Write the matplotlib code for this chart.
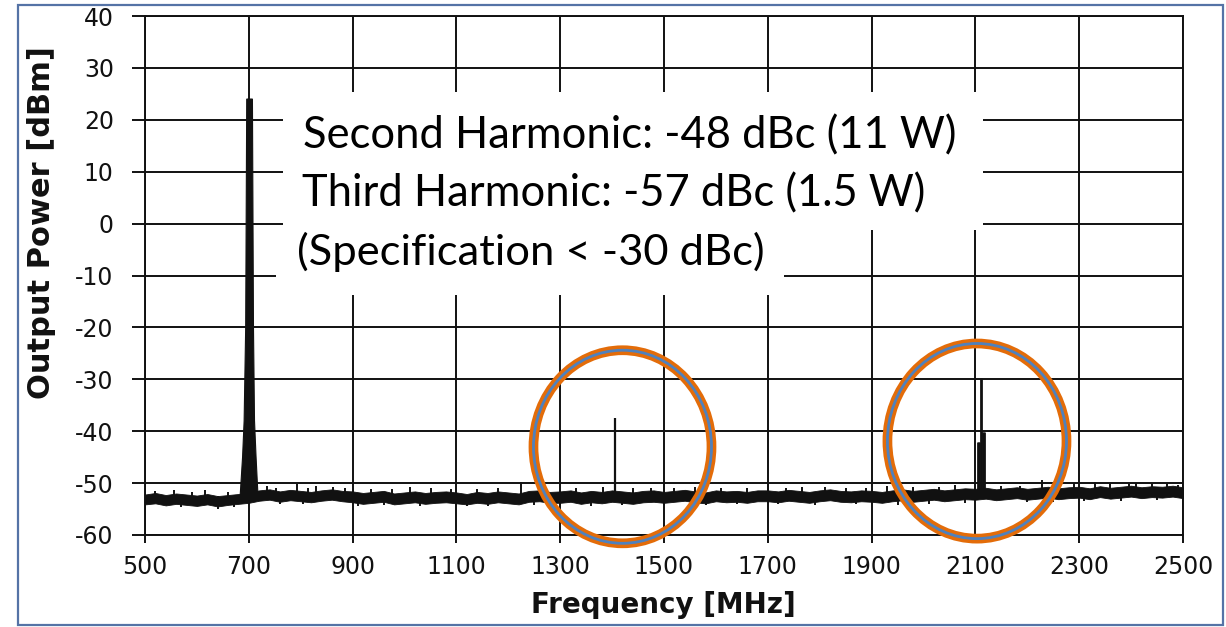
import numpy as np
import matplotlib
matplotlib.use("Agg")
import matplotlib.pyplot as plt
from matplotlib.patches import Ellipse, Rectangle

plt.rcParams["axes.unicode_minus"] = False
plt.rcParams["font.family"] = ["DejaVu Sans"]

# ---- data -------------------------------------------------------------
x_ticks = [500, 700, 900, 1100, 1300, 1500, 1700, 1900, 2100, 2300, 2500]
y_ticks = [-60, -50, -40, -30, -20, -10, 0, 10, 20, 30, 40]

# noise floor envelope, sampled every 20 MHz from 500 to 2500 MHz
noise_freq = np.arange(500, 2501, 20)
noise_upper = [
    -52.2, -51.9, -52.3, -52.0, -52.2, -52.4, -52.1, -52.5, -52.3, -52.1,
    -51.7, -51.4, -51.2, -51.6, -51.3, -51.5, -51.7, -51.4, -51.2, -51.5,
    -51.6, -51.9, -51.7, -51.5, -52.0, -51.8, -51.6, -51.9, -51.7, -51.6,
    -51.8, -52.1, -51.7, -51.9, -51.6, -51.8, -52.0, -51.5, -51.4, -51.7,
    -51.6, -51.4, -51.8, -51.5, -51.7, -51.4, -51.6, -51.8, -51.5, -51.4,
    -51.7, -51.5, -51.3, -51.6, -51.8, -51.4, -51.6, -51.5, -51.7, -51.4,
    -51.4, -51.6, -51.3, -51.5, -51.7, -51.4, -51.2, -51.5, -51.6, -51.4,
    -51.5, -51.7, -51.4, -51.2, -51.5, -51.3, -51.1, -51.4, -51.2, -51.0,
    -51.1, -50.9, -51.2, -51.0, -50.8, -51.1, -50.9, -50.7, -51.0, -50.8,
    -50.7, -51.0, -50.6, -50.9, -50.7, -50.5, -50.8, -50.6, -50.7, -50.5, -50.8,
]
noise_lower = [
    -54.1, -53.9, -54.3, -54.0, -54.2, -54.4, -54.1, -54.5, -54.2, -54.0,
    -53.8, -53.4, -53.2, -53.6, -53.3, -53.5, -53.7, -53.4, -53.2, -53.5,
    -53.7, -54.0, -53.8, -53.6, -54.1, -53.9, -53.7, -54.0, -53.8, -53.7,
    -53.9, -54.1, -53.8, -54.0, -53.7, -53.9, -54.1, -53.6, -53.5, -53.8,
    -53.8, -53.6, -54.0, -53.7, -53.9, -53.6, -53.8, -54.0, -53.7, -53.6,
    -53.8, -53.6, -53.4, -53.7, -53.9, -53.5, -53.7, -53.6, -53.8, -53.5,
    -53.5, -53.7, -53.4, -53.6, -53.8, -53.5, -53.3, -53.6, -53.7, -53.5,
    -53.6, -53.8, -53.5, -53.3, -53.6, -53.4, -53.2, -53.5, -53.3, -53.1,
    -53.2, -53.0, -53.3, -53.1, -52.9, -53.2, -53.0, -52.8, -53.1, -52.9,
    -52.8, -53.1, -52.7, -53.0, -52.8, -52.6, -52.9, -52.7, -52.8, -52.6, -52.9,
]

# small spurs sticking out above the noise floor
spur_freq = [520, 555, 590, 615, 660, 735, 752, 792, 815, 830, 862, 885, 935,
             975, 1010, 1052, 1090, 1140, 1180, 1225, 1262, 1330, 1382, 1440,
             1475, 1520, 1560, 1610, 1660, 1700, 1735, 1765, 1810, 1850,
             1890, 1930, 1980, 2030, 2060, 2150, 2185, 2228, 2260, 2290,
             2330, 2360, 2395, 2410, 2440, 2470, 2490]
spur_top = [-51.6, -51.3, -51.7, -51.4, -51.8, -50.6, -51.0, -50.2, -50.9,
            -50.6, -50.8, -51.0, -51.1, -51.2, -50.7, -50.9, -51.2, -51.1,
            -51.0, -49.8, -50.9, -50.9, -50.8, -51.0, -50.9, -51.0, -50.7,
            -50.9, -51.0, -50.2, -50.9, -50.7, -50.8, -50.9, -51.0, -50.6,
            -50.8, -50.7, -50.4, -50.6, -50.5, -49.4, -50.4, -50.0, -49.7,
            -50.1, -50.2, -50.0, -50.2, -50.1, -50.3]

# short dips below the noise floor
dip_freq = [570, 640, 672, 760, 805, 910, 960, 1030, 1120, 1160, 1250, 1300,
            1360, 1420, 1500, 1580, 1640, 1720, 1790, 1870, 1950, 2010, 2080,
            2200, 2250, 2310, 2380, 2450]
dip_bottom = [-54.6, -54.9, -54.7, -54.1, -54.0, -54.4, -54.3, -54.5, -54.4,
              -54.5, -54.3, -54.2, -54.4, -54.3, -54.2, -54.3, -54.1, -54.0,
              -54.2, -54.1, -54.2, -54.0, -53.9, -53.6, -53.7, -53.4, -53.5,
              -53.3]

# fundamental carrier outline (MHz, dBm)
carrier_freq = [683, 688, 691, 694, 696.0, 707.0, 709, 711, 714, 718]
carrier_dbm = [-53, -45, -38, -20, 24, 24, -20, -38, -45, -53]

# second harmonic
h2_freq = [1405]
h2_dbm = [-37.5]

# third harmonic cluster
h3_freq = [2104.5, 2107.0, 2110.5, 2114.0, 2116.0]
h3_dbm = [-42.1, -42.1, -29.8, -40.1, -40.1]

annotations = [
    "Second Harmonic: -48 dBc (11 W)",
    "Third Harmonic: -57 dBc (1.5 W)",
    "(Specification < -30 dBc)",
]

# ---- figure -----------------------------------------------------------
W, H = 1226, 627
fig = plt.figure(figsize=(W / 100, H / 100), dpi=100)
ax = fig.add_axes([145 / W, 1 - 535 / H, 1038 / W, 519 / H])

ink = "#111111"
floor_base = -52.5

ax.fill_between(noise_freq, noise_lower, noise_upper, color=ink,
                linewidth=0.6, edgecolor=ink, zorder=3)
ax.vlines(spur_freq, floor_base, spur_top, color=ink, linewidth=1.4, zorder=3)
ax.vlines(dip_freq, dip_bottom, floor_base, color=ink, linewidth=1.4, zorder=3)
ax.fill(carrier_freq, carrier_dbm, color=ink, linewidth=0.8, edgecolor=ink,
        zorder=3)
ax.vlines(h2_freq, floor_base, h2_dbm, color=ink, linewidth=1.6, zorder=3)
ax.vlines(h3_freq, floor_base, h3_dbm, color=ink, linewidth=2.0, zorder=3)

ax.set_xlim(500, 2500)
ax.set_ylim(-60, 40)
ax.set_xticks(x_ticks)
ax.set_yticks(y_ticks)
ax.grid(True, color=ink, linewidth=1.4)
ax.set_axisbelow(True)
for sp in ax.spines.values():
    sp.set_color(ink)
    sp.set_linewidth(1.4)
ax.tick_params(axis="x", length=5.5, width=1.4, color=ink, pad=9,
               labelsize=17, labelcolor="#111111")
ax.tick_params(axis="y", length=9.5, width=1.4, color=ink, pad=13,
               labelsize=17, labelcolor="#111111")

# white panels behind the annotation text
ax.add_patch(Rectangle((766, -1.2), 2115 - 766, 25.4 + 1.2, facecolor="white",
                       edgecolor="none", zorder=2))
ax.add_patch(Rectangle((752, -13.8), 1732 - 752, 13.8 - 1.0, facecolor="white",
                       edgecolor="none", zorder=2))

# circles marking the harmonics
for cx, cy, ew, eh in [(1420, -43.0, 343, 37.2), (2103, -41.9, 345, 37.6)]:
    ax.add_patch(Ellipse((cx, cy), ew, eh, fill=False, edgecolor="#E36C09",
                         linewidth=7.0, zorder=5, clip_on=False))
    ax.add_patch(Ellipse((cx, cy), ew, eh, fill=False, edgecolor="#4F81BD",
                         linewidth=2.0, zorder=6, clip_on=False))

# annotation text, each line fitted to its width
renderer = fig.canvas.get_renderer()
ann_pos = [(303, 148, 955), (302, 206, 924), (297, 265, 763)]
for txt, (x0, yb, x1) in zip(annotations, ann_pos):
    t = fig.text(x0 / W, 1 - yb / H, txt, ha="left", va="baseline",
                 fontsize=30, family=["Lato", "DejaVu Sans"], color="black",
                 zorder=7)
    w = t.get_window_extent(renderer).width
    t.set_fontsize(30 * (x1 - x0) / w)

fig.text(663 / W, 1 - 605 / H, "Frequency [MHz]", ha="center", va="center",
         fontsize=20, fontweight="bold", color="#111111")
fig.text(42 / W, 1 - 223 / H, "Output Power [dBm]", ha="center", va="center",
         rotation=90, fontsize=22, fontweight="bold", color="#111111")

# outer frame
fig.add_artist(Rectangle((18 / W, 1 - 625 / H), (1223 - 18) / W, (625 - 5) / H,
                         transform=fig.transFigure, fill=False,
                         edgecolor="#5573A6", linewidth=1.6))

fig.savefig("out.png", dpi=100)
